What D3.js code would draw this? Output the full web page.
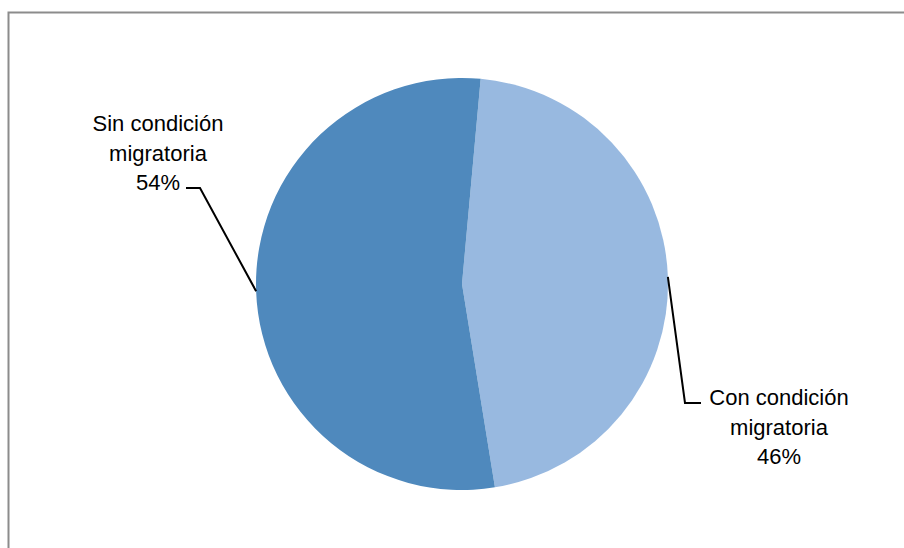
<!DOCTYPE html>
<html>
<head>
<meta charset="utf-8">
<script src="https://cdn.jsdelivr.net/npm/d3@7"></script>
<style>
  html, body { margin: 0; padding: 0; background: #fff; }
  svg { display: block; }
  text { font-family: "Liberation Sans", Arial, sans-serif; fill: #000; }
</style>
</head>
<body>
<svg id="chart" width="904" height="548"></svg>
<script>
// Migration status shares (percent)
const categories = ["Con condición migratoria", "Sin condición migratoria"];
const labelLines = [["Con condición", "migratoria"], ["Sin condición", "migratoria"]];
const values = [46, 54];
const colors = ["#98B9E0", "#4F89BD"];

const W = 904, H = 548;
const cx = 462, cy = 284, R = 206;
const svg = d3.select("#chart");

// Chart frame
svg.append("path")
  .attr("d", `M8.5,${H} L8.5,12.5 L${W},12.5`)
  .attr("fill", "none")
  .attr("stroke", "#8c8c8c")
  .attr("stroke-width", 2);

const startDeg = 5.2;
const pie = d3.pie().sort(null).value(d => d)
  .startAngle(startDeg * Math.PI / 180)
  .endAngle((startDeg + 360) * Math.PI / 180);
const arcs = pie(values);
const arc = d3.arc().innerRadius(0).outerRadius(R);

const g = svg.append("g").attr("transform", `translate(${cx},${cy})`);
g.selectAll("path.slice").data(arcs).enter().append("path")
  .attr("class", "slice")
  .attr("d", arc)
  .attr("fill", (d, i) => colors[i]);

// Label placement: text block centre, and the elbow of the leader line
const labelPos = [
  { x: 779, y: 405, elbowX: 685, elbowY: 403, endX: 701 },
  { x: 158, y: 131, elbowX: 200, elbowY: 188, endX: 186 }
];
const lineH = 29.5;

arcs.forEach((a, i) => {
  const mid = (a.startAngle + a.endAngle) / 2;
  const sx = cx + R * Math.sin(mid), sy = cy - R * Math.cos(mid);
  const p = labelPos[i];
  svg.append("path")
    .attr("d", `M${sx},${sy} L${p.elbowX},${p.elbowY} L${p.endX},${p.elbowY}`)
    .attr("fill", "none")
    .attr("stroke", "#000")
    .attr("stroke-width", 2);
  const t = svg.append("text")
    .attr("text-anchor", "middle")
    .attr("font-size", 22);
  const lines = labelLines[i].concat([d3.format(".0f")(values[i]) + "%"]);
  lines.forEach((ln, k) => {
    t.append("tspan").attr("x", p.x).attr("y", p.y + k * lineH).text(ln);
  });
});
</script>
</body>
</html>
